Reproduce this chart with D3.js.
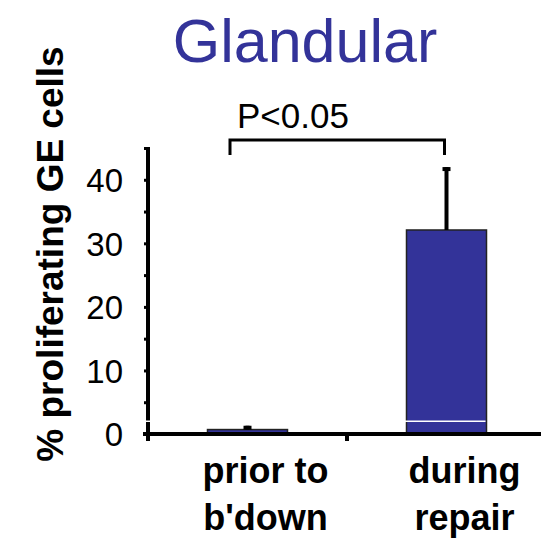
<!DOCTYPE html>
<html>
<head>
<meta charset="utf-8">
<script src="https://cdn.jsdelivr.net/npm/d3@7"></script>
<style>
  body { margin: 0; background: #fff; }
  svg { display: block; font-family: "Liberation Sans", Arial, sans-serif; }
</style>
</head>
<body>
<div id="main"></div>
<script>
// data
var categories = ["prior to\nb'down", "during\nrepair"];
var means = [0.7, 32.1];
var errors = [0.6, 9.9];
var yTicks = [0, 5, 10, 15, 20, 25, 30, 35, 40, 45];
var yLabels = [0, 10, 20, 30, 40];
var breakValue = 2;
var sigText = "P<0.05";

var width = 541, height = 541;
var barColor = "#333399";

var svg = d3.select("#main").append("svg")
  .attr("width", width).attr("height", height);

var x = d3.scaleBand().domain(categories).range([148, 546]);
var y = d3.scaleLinear().domain([0, 45]).range([434, 148]);
var barW = 80;

// title
svg.append("text")
  .text("Glandular")
  .attr("x", 305).attr("y", 62)
  .attr("text-anchor", "middle")
  .style("font-size", "61px")
  .attr("fill", barColor);

// bars
svg.selectAll(".bar").data(means).enter().append("rect")
  .attr("class", "bar")
  .attr("x", function (d, i) { return x(categories[i]) + x.bandwidth() / 2 - barW / 2; })
  .attr("y", function (d) { return y(d); })
  .attr("width", barW)
  .attr("height", function (d) { return y(0) - y(d); })
  .attr("fill", barColor)
  .attr("stroke", "#222")
  .attr("stroke-width", 1.5);

// error bars
var eb = svg.selectAll(".err").data(means).enter().append("g");
eb.append("line")
  .attr("x1", function (d, i) { return x(categories[i]) + x.bandwidth() / 2; })
  .attr("x2", function (d, i) { return x(categories[i]) + x.bandwidth() / 2; })
  .attr("y1", function (d) { return y(d); })
  .attr("y2", function (d, i) { return y(d + errors[i]); })
  .attr("stroke", "#000").attr("stroke-width", 4);
eb.append("line")
  .attr("x1", function (d, i) { return x(categories[i]) + x.bandwidth() / 2 - 4; })
  .attr("x2", function (d, i) { return x(categories[i]) + x.bandwidth() / 2 + 4; })
  .attr("y1", function (d, i) { return y(d + errors[i]) + 2; })
  .attr("y2", function (d, i) { return y(d + errors[i]) + 2; })
  .attr("stroke", "#000").attr("stroke-width", 4);

// y axis
var yAxis = svg.append("g")
  .attr("transform", "translate(148,0)")
  .call(d3.axisLeft(y).tickValues(yTicks).tickSize(4).tickPadding(21)
    .tickFormat(function (d) { return yLabels.indexOf(d) >= 0 ? d : ""; }));
yAxis.select(".domain").remove();
yAxis.append("line")
  .attr("x1", 0).attr("x2", 0)
  .attr("y1", y(45) - 1).attr("y2", 441)
  .attr("stroke", "#000").attr("stroke-width", 4);
yAxis.selectAll(".tick line").attr("stroke", "#000").attr("stroke-width", 3);
yAxis.selectAll(".tick text")
  .attr("fill", "#000")
  .attr("dy", "0.36em")
  .style("font-size", "33px")
  .style("font-family", "Liberation Sans, Arial, sans-serif");

// x axis
var xAxis = svg.append("g")
  .attr("transform", "translate(0,434)");
xAxis.append("line")
  .attr("x1", 143).attr("x2", 541)
  .attr("stroke", "#000").attr("stroke-width", 4);
xAxis.selectAll(".xt").data(categories).enter().append("line")
  .attr("x1", function (d) { return x(d); })
  .attr("x2", function (d) { return x(d); })
  .attr("y1", 0).attr("y2", 7)
  .attr("stroke", "#000").attr("stroke-width", 4);

// category labels
var cl = svg.selectAll(".cat").data(categories).enter().append("text")
  .attr("text-anchor", "middle")
  .style("font-size", "36px")
  .style("font-weight", "bold");
cl.selectAll("tspan").data(function (d) { return d.split("\n").map(function (t) { return {t: t, c: d}; }); })
  .enter().append("tspan")
  .attr("x", function (d) { return x(d.c) + x.bandwidth() / 2 + 18; })
  .attr("y", function (d, i) { return 483 + i * 47; })
  .text(function (d) { return d.t; });

// axis break line
svg.append("line")
  .attr("x1", 145).attr("x2", x(categories[1]) + x.bandwidth() / 2 + barW / 2 - 1)
  .attr("y1", y(breakValue)).attr("y2", y(breakValue))
  .attr("stroke", "#fff").attr("stroke-width", 1.5);

// y label
svg.append("text")
  .text("% proliferating GE cells")
  .attr("transform", "translate(63,254) rotate(-90)")
  .attr("text-anchor", "middle")
  .style("font-size", "37px")
  .style("font-weight", "bold");

// significance bracket
var bx1 = 230, bx2 = x(categories[1]) + x.bandwidth() / 2 - 2;
svg.append("path")
  .attr("d", "M" + bx1 + ",155V140H" + bx2 + "V155")
  .attr("fill", "none").attr("stroke", "#000").attr("stroke-width", 3);
svg.append("text")
  .text(sigText)
  .attr("x", 237).attr("y", 128)
  .style("font-size", "35px");
</script>
</body>
</html>
